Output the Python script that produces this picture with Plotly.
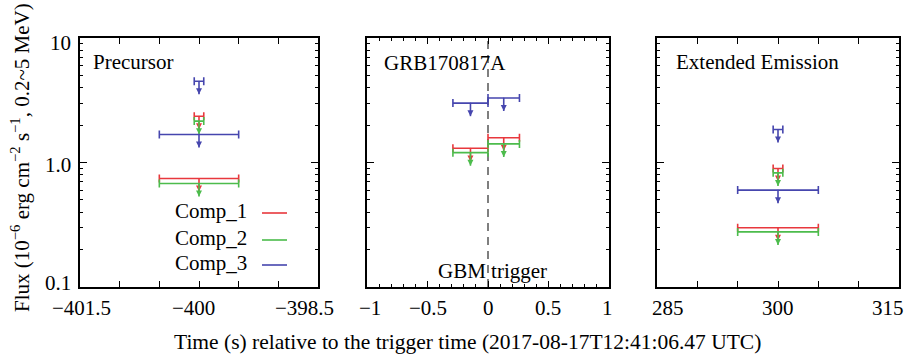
import numpy as np
import plotly.graph_objects as go

# ---------------- data ----------------
components = ["Comp_1", "Comp_2", "Comp_3"]
comp_colors = ["#e8383d", "#4cbc4c", "#4646ae"]

# Precursor panel (time around -400 s)
pre_center = -400.0
pre_wide_halfwidth = 0.5
pre_wide_flux = [0.744, 0.678, 1.68]
pre_narrow_halfwidth = 0.06
pre_narrow_flux = [2.35, 2.15, 4.5]

# GRB170817A main pulse panel
grb_centers = [-0.145, 0.13]
grb_halfwidths = [0.145, 0.13]
grb_flux_comp1 = [1.30, 1.58]
grb_flux_comp2 = [1.20, 1.41]
grb_flux_comp3 = [3.0, 3.3]

# Extended emission panel (time around 300 s)
ee_center = 300.0
ee_wide_halfwidth = 5.0
ee_wide_flux = [0.299, 0.277, 0.60]
ee_narrow_halfwidth = 0.6
ee_narrow_flux = [0.895, 0.826, 1.84]

x1_ticks = [-401.5, -400, -398.5]
x1_text = ["\u2212401.5", "\u2212400", "\u2212398.5"]
x2_ticks = [-1, -0.5, 0, 0.5, 1]
x2_text = ["\u22121", "\u22120.5", "0", "0.5", "1"]
x3_ticks = [285, 300, 315]
x3_text = ["285", "300", "315"]
y_ticks = [0.1, 1, 10]
y_text = ["0.1", "1.0", "10"]
y_minor = [0.2, 0.3, 0.4, 0.5, 0.6, 0.7, 0.8, 0.9, 2, 3, 4, 5, 6, 7, 8, 9]

# ---------------- style ----------------
FONT = "'Liberation Serif', 'Times New Roman', Times, 'DejaVu Serif', serif"
ARROW_DEC = 0.105  # arrow length in decades
W, H = 907, 355

fig = go.Figure()


def add_points(xs, ys, hws, color, xa, ya):
    # horizontal bin bars (upper limits)
    fig.add_trace(go.Scatter(
        x=xs, y=ys, mode="markers", xaxis=xa, yaxis=ya,
        marker=dict(size=1, color=color),
        error_x=dict(type="data", array=hws, symmetric=True, color=color,
                     thickness=1.6, width=4),
        showlegend=False, hoverinfo="skip"))
    # downward arrows marking upper limits
    sx, sy = [], []
    tips = [v * 10 ** (-ARROW_DEC) for v in ys]
    for xv, yv, tv in zip(xs, ys, tips):
        sx += [xv, xv, None]
        sy += [yv, tv, None]
    fig.add_trace(go.Scatter(
        x=sx, y=sy, mode="lines", xaxis=xa, yaxis=ya,
        line=dict(color=color, width=1.6), showlegend=False, hoverinfo="skip"))
    fig.add_trace(go.Scatter(
        x=xs, y=tips, mode="markers", xaxis=xa, yaxis=ya,
        marker=dict(symbol="arrow-down", size=6, color=color,
                    line=dict(width=0)),
        showlegend=False, hoverinfo="skip"))


for i, c in enumerate(comp_colors):
    add_points([pre_center], [pre_wide_flux[i]], [pre_wide_halfwidth], c, "x", "y")
    add_points([pre_center], [pre_narrow_flux[i]], [pre_narrow_halfwidth], c, "x", "y")
    add_points([ee_center], [ee_wide_flux[i]], [ee_wide_halfwidth], c, "x3", "y3")
    add_points([ee_center], [ee_narrow_flux[i]], [ee_narrow_halfwidth], c, "x3", "y3")

for flux, c in zip([grb_flux_comp1, grb_flux_comp2, grb_flux_comp3], comp_colors):
    add_points(grb_centers, flux, grb_halfwidths, c, "x2", "y2")


# domains (pixel based)
def px_x(p):
    return p / W


def px_y(p):
    return 1 - p / H


ydom = [px_y(287), px_y(38)]
xdoms = [[px_x(80), px_x(318)], [px_x(367), px_x(609)], [px_x(657), px_x(899)]]

tickfont = dict(family=FONT, size=21, color="black")
base_x = dict(showline=True, linecolor="black", linewidth=1.5, mirror="ticks",
              ticks="inside", ticklen=6, tickcolor="black", tickwidth=1,
              showgrid=False, zeroline=False, showticklabels=False,
              tickmode="array", automargin=False)
base_y = dict(type="log", range=[-1, 1], showline=True, linecolor="black",
              linewidth=1.5, mirror="ticks", ticks="inside", ticklen=7,
              tickcolor="black", tickwidth=1, showgrid=False, zeroline=False,
              showticklabels=False, tickmode="array", tickvals=y_ticks,
              automargin=False,
              minor=dict(tickmode="array", tickvals=y_minor, ticks="inside",
                         ticklen=3, tickcolor="black", tickwidth=1),
              domain=ydom)

fig.update_layout(
    xaxis=dict(base_x, domain=xdoms[0], range=[-401.5, -398.5],
               tickvals=x1_ticks,
               minor=dict(dtick=0.5, tick0=-400, ticks="inside", ticklen=6,
                          tickcolor="black")),
    xaxis2=dict(base_x, domain=xdoms[1], range=[-1, 1],
                tickvals=x2_ticks,
                minor=dict(dtick=0.1, tick0=0, ticks="inside", ticklen=3,
                           tickcolor="black")),
    xaxis3=dict(base_x, domain=xdoms[2], range=[285, 315],
                tickvals=x3_ticks,
                minor=dict(dtick=5, tick0=300, ticks="inside", ticklen=6,
                           tickcolor="black")),
    yaxis=dict(base_y, anchor="x"),
    yaxis2=dict(base_y, anchor="x2"),
    yaxis3=dict(base_y, anchor="x3"),
)

# GBM trigger dashed line
fig.add_shape(type="line", xref="x2", yref="y2 domain", x0=0, x1=0, y0=0, y1=1,
              line=dict(color="#555555", width=1.5, dash="8px,6px"), layer="below")

annotations = []

# x tick labels (edge labels nudged inward as in the original figure)
x_label_shift = {"x": [1, -6, -14], "x2": [3, 0, 0, -1, -2], "x3": [11, 0, -11]}
for xa, vals, texts in [("x", x1_ticks, x1_text), ("x2", x2_ticks, x2_text),
                        ("x3", x3_ticks, x3_text)]:
    for v, t, s in zip(vals, texts, x_label_shift[xa]):
        annotations.append(dict(text=t, x=v, y=px_y(308), xref=xa, yref="paper",
                                xanchor="center", yanchor="middle", xshift=s,
                                showarrow=False, font=tickfont))

# y tick labels (edge labels nudged inward as in the original figure)
y_label_shift = [4, -2, -5]
for v, t, s in zip(y_ticks, y_text, y_label_shift):
    annotations.append(dict(text=t, x=px_x(73), y=np.log10(v), xref="paper",
                            yref="y", xanchor="right", yanchor="middle",
                            yshift=s, showarrow=False, font=tickfont))

txt = dict(family=FONT, size=21, color="black")
for label, xp, yp, anch in [("Precursor", 91, 62, "left"),
                            ("GRB170817A", 382, 63, "left"),
                            ("Extended Emission", 674, 62, "left"),
                            ("GBM trigger", 492, 271, "center")]:
    annotations.append(dict(text=label, x=px_x(xp), y=px_y(yp), xref="paper",
                            yref="paper", xanchor=anch, yanchor="middle",
                            showarrow=False, font=txt))

# legend drawn inside precursor panel (label left of line sample)
for name, c, yl in zip(components, comp_colors, [213, 240, 265]):
    annotations.append(dict(text=name, x=px_x(249), y=px_y(yl - 2), xref="paper",
                            yref="paper", xanchor="right", yanchor="middle",
                            showarrow=False, font=txt))
    fig.add_shape(type="line", xref="paper", yref="paper", x0=px_x(262),
                  x1=px_x(287), y0=px_y(yl), y1=px_y(yl),
                  line=dict(color=c, width=1.6))

# axis titles
annotations.append(dict(
    text="Time (s) relative to the trigger time (2017-08-17T12:41:06.47 UTC)",
    x=px_x(467), y=px_y(342), xref="paper", yref="paper", xanchor="center",
    yanchor="middle", showarrow=False, font=dict(family=FONT, size=21.5, color="black")))
annotations.append(dict(
    text="Flux (10<sup>\u22126</sup> erg cm<sup>\u22122</sup> s<sup>\u22121</sup>, 0.2~5 MeV)",
    x=px_x(20), y=px_y(158), xref="paper", yref="paper", xanchor="center",
    yanchor="middle", textangle=-90, showarrow=False,
    font=dict(family=FONT, size=21, color="black")))

fig.update_layout(
    annotations=annotations,
    width=W, height=H, margin=dict(l=0, r=0, t=0, b=0, autoexpand=False),
    paper_bgcolor="white", plot_bgcolor="white", showlegend=False,
)

fig.write_html("out.html")
